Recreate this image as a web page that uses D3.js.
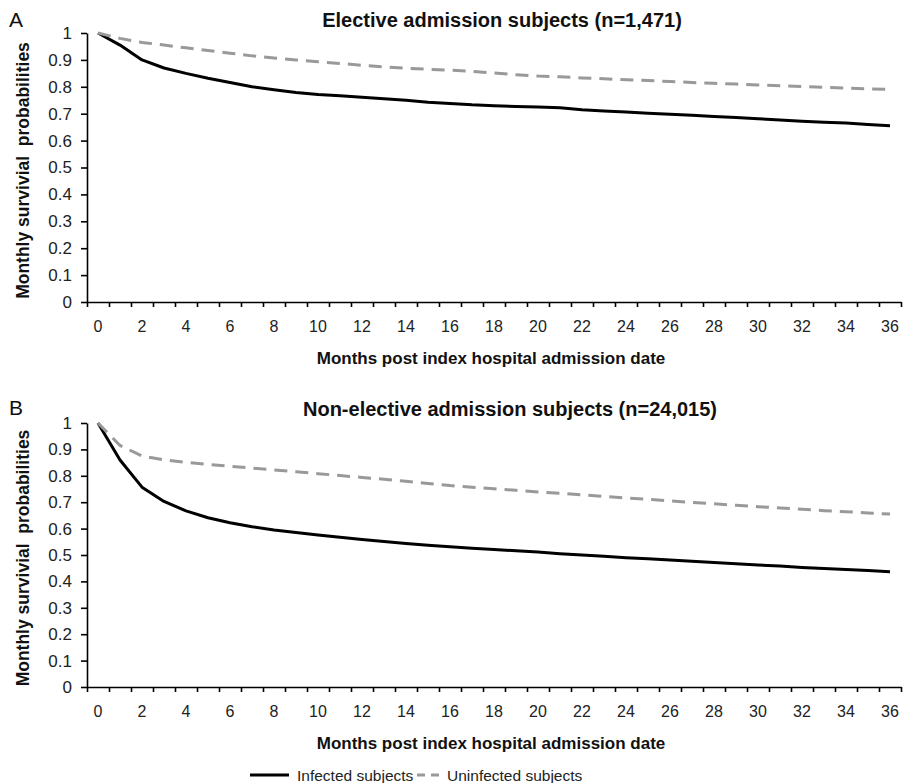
<!DOCTYPE html>
<html>
<head>
<meta charset="utf-8">
<script src="https://cdn.jsdelivr.net/npm/d3@7"></script>
<style>
  html, body { margin: 0; padding: 0; background: #fff; }
  svg { display: block; font-family: "Liberation Sans", Arial, sans-serif; }
</style>
</head>
<body>
<svg id="chart" width="904" height="783"></svg>
<script>
// ---- data ----
const months = d3.range(0, 37);
const xTickLabels = months.filter(m => m % 2 === 0);
const yTickValues = [0, 0.1, 0.2, 0.3, 0.4, 0.5, 0.6, 0.7, 0.8, 0.9, 1];

const panelLetters = ["A", "B"];
const panelTitles = ["Elective admission subjects (n=1,471)", "Non-elective admission subjects (n=24,015)"];
const xAxisTitle = "Months post index hospital admission date";
const yAxisTitle = "Monthly survivial\u00a0 probabilities";
const seriesNames = ["Infected subjects", "Uninfected subjects"];

const electiveInfected = [1.0, 0.955, 0.90, 0.870, 0.850, 0.832, 0.816, 0.800, 0.789, 0.779,
  0.771, 0.767, 0.761, 0.756, 0.750, 0.743, 0.738, 0.733, 0.730, 0.727,
  0.725, 0.722, 0.715, 0.710, 0.706, 0.702, 0.698, 0.694, 0.690, 0.686,
  0.681, 0.677, 0.672, 0.668, 0.665, 0.660, 0.655];
const electiveUninfected = [1.0, 0.980, 0.965, 0.955, 0.945, 0.935, 0.925, 0.915, 0.907, 0.900,
  0.893, 0.887, 0.880, 0.874, 0.869, 0.865, 0.862, 0.857, 0.851, 0.845,
  0.840, 0.837, 0.833, 0.830, 0.826, 0.823, 0.820, 0.816, 0.813, 0.810,
  0.807, 0.804, 0.801, 0.798, 0.795, 0.792, 0.790];
const nonElectiveInfected = [1.0, 0.860, 0.757, 0.703, 0.667, 0.641, 0.622, 0.607, 0.595, 0.585,
  0.576, 0.567, 0.559, 0.551, 0.544, 0.537, 0.531, 0.526, 0.521, 0.516,
  0.511, 0.505, 0.500, 0.495, 0.490, 0.486, 0.481, 0.476, 0.472, 0.467,
  0.462, 0.458, 0.453, 0.449, 0.445, 0.441, 0.437];
const nonElectiveUninfected = [1.0, 0.915, 0.875, 0.860, 0.851, 0.843, 0.836, 0.829, 0.822, 0.815,
  0.808, 0.801, 0.794, 0.787, 0.779, 0.771, 0.763, 0.757, 0.751, 0.745,
  0.739, 0.734, 0.728, 0.722, 0.716, 0.711, 0.705, 0.699, 0.694, 0.688,
  0.683, 0.678, 0.673, 0.668, 0.664, 0.659, 0.655];

// ---- layout ----
const svg = d3.select("#chart");
const left = 87, right = 901;
const panels = [
  { top: 33, bottom: 302, titleX: 502, titleY: 27, letterY: 27, infected: electiveInfected, uninfected: electiveUninfected },
  { top: 423, bottom: 687, titleX: 510, titleY: 416, letterY: 415, infected: nonElectiveInfected, uninfected: nonElectiveUninfected }
];

const styles = [
  { color: "#000", width: 3, dash: null },
  { color: "#999", width: 3, dash: "13,8" }
];

const x = d3.scaleBand().domain(months).range([left, right]).padding(0);
const xBound = d3.scaleLinear().domain([0, months.length]).range([left, right]);

panels.forEach((p, i) => {
  const y = d3.scaleLinear().domain([0, 1]).range([p.bottom, p.top]);
  const g = svg.append("g");

  // y axis
  const yAxis = g.append("g")
    .attr("transform", `translate(${left},0)`)
    .call(d3.axisLeft(y).tickValues(yTickValues).tickFormat(d => d === 0 || d === 1 ? String(d) : d3.format(".1f")(d)).tickSize(6).tickPadding(9).tickSizeOuter(0));
  yAxis.select(".domain").attr("stroke", "#000").attr("stroke-width", 1.6);
  yAxis.selectAll(".tick line").attr("stroke", "#000").attr("stroke-width", 1.6);
  yAxis.selectAll("text").attr("font-size", 17).attr("fill", "#222").attr("font-family", "Liberation Sans, Arial, sans-serif");

  // x axis ticks (band boundaries)
  const xTicks = g.append("g")
    .attr("transform", `translate(0,${p.bottom})`)
    .call(d3.axisBottom(xBound).tickValues(d3.range(0, months.length + 1)).tickFormat("").tickSize(5).tickSizeOuter(0));
  xTicks.select(".domain").attr("stroke", "#000").attr("stroke-width", 1.6);
  xTicks.selectAll(".tick line").attr("stroke", "#000").attr("stroke-width", 1.6);

  // x labels at band centers
  const xLabels = g.append("g")
    .attr("transform", `translate(0,${p.bottom})`)
    .call(d3.axisBottom(x).tickValues(xTickLabels).tickSize(0).tickPadding(19));
  xLabels.select(".domain").remove();
  xLabels.selectAll("text").attr("font-size", 16).attr("fill", "#222").attr("font-family", "Liberation Sans, Arial, sans-serif");

  // lines
  [p.infected, p.uninfected].forEach((vals, s) => {
    const line = d3.line()
      .x((d, k) => x(months[k]) + x.bandwidth() / 2)
      .y(d => y(d));
    const path = g.append("path")
      .datum(vals)
      .attr("d", line)
      .attr("fill", "none")
      .attr("stroke", styles[s].color)
      .attr("stroke-width", styles[s].width)
      .attr("stroke-linejoin", "round");
    if (styles[s].dash) path.attr("stroke-dasharray", styles[s].dash);
  });

  // titles
  g.append("text").attr("x", p.titleX).attr("y", p.titleY)
    .attr("text-anchor", "middle").attr("font-size", 20).attr("font-weight", "bold").attr("fill", "#111")
    .text(panelTitles[i]);
  g.append("text").attr("x", 9).attr("y", p.letterY)
    .attr("font-size", 21).attr("fill", "#111")
    .text(panelLetters[i]);
  g.append("text").attr("x", (left + right) / 2 - 3).attr("y", p.bottom + 62)
    .attr("text-anchor", "middle").attr("font-size", 17).attr("font-weight", "bold").attr("fill", "#111")
    .text(xAxisTitle);
  g.append("text")
    .attr("transform", `translate(29,${(p.top + p.bottom) / 2 + 3}) rotate(-90)`)
    .attr("text-anchor", "middle").attr("font-size", 17.5).attr("font-weight", "bold").attr("fill", "#111")
    .text(yAxisTitle);
});

// legend
const legend = svg.append("g").attr("transform", "translate(0,775)");
const legendItems = [
  { x1: 250, x2: 289, tx: 297 },
  { x1: 417, x2: 440, tx: 447 }
];
seriesNames.forEach((name, s) => {
  const it = legendItems[s];
  const l = legend.append("line")
    .attr("x1", it.x1).attr("x2", it.x2).attr("y1", 0).attr("y2", 0)
    .attr("stroke", styles[s].color).attr("stroke-width", styles[s].width);
  if (styles[s].dash) l.attr("stroke-dasharray", "8,6");
  legend.append("text").attr("x", it.tx).attr("y", 5.5)
    .attr("font-size", 15.5).attr("fill", "#222")
    .text(name);
});
</script>
</body>
</html>
